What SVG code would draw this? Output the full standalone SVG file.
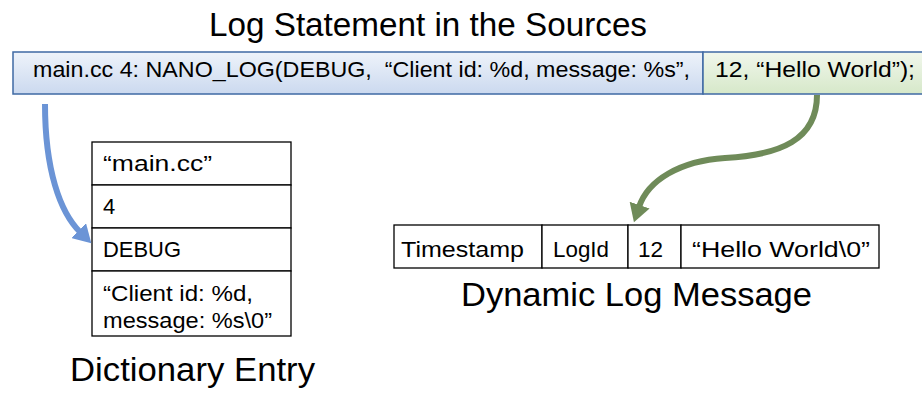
<svg xmlns="http://www.w3.org/2000/svg" width="922" height="393" viewBox="0 0 922 393">
  <style>
    .title { font-family: "Liberation Sans", Arial, sans-serif; font-size: 33px; fill: #000; }
    .cell { font-family: "Liberation Sans", Arial, sans-serif; font-size: 22px; fill: #000; white-space: pre; }
    .grid { fill: #fff; stroke: #000; stroke-width: 1.3; }
    .bar { stroke: #3f6aa4; stroke-width: 1.5; }
    .flow { fill: none; stroke-width: 6; stroke-linecap: butt; }
  </style>
  <defs>
    <linearGradient id="barBlue" x1="0" y1="0" x2="0" y2="1">
      <stop offset="0" stop-color="#eef3fa"/>
      <stop offset="1" stop-color="#cbd9ef"/>
    </linearGradient>
    <linearGradient id="barGreen" x1="0" y1="0" x2="0" y2="1">
      <stop offset="0" stop-color="#f1f7ec"/>
      <stop offset="1" stop-color="#d6e8c9"/>
    </linearGradient>
    <marker id="headBlue" markerUnits="userSpaceOnUse" markerWidth="19" markerHeight="21" refX="2" refY="10.5" orient="auto">
      <path d="M0,0 L18,10.5 L0,21 z" fill="#6b94d6"/>
    </marker>
    <marker id="headGreen" markerUnits="userSpaceOnUse" markerWidth="19" markerHeight="21" refX="2" refY="10.5" orient="auto">
      <path d="M0,0 L18,10.5 L0,21 z" fill="#6f8b59"/>
    </marker>
  </defs>

  <!-- headings -->
  <text class="title" x="209" y="36" textLength="438" lengthAdjust="spacingAndGlyphs">Log Statement in the Sources</text>
  <text class="title" x="70" y="381" textLength="245" lengthAdjust="spacingAndGlyphs">Dictionary Entry</text>
  <text class="title" x="461" y="306" textLength="351" lengthAdjust="spacingAndGlyphs">Dynamic Log Message</text>

  <!-- source statement -->
  <g id="source-statement">
    <rect class="bar" x="13" y="52" width="690" height="42" fill="url(#barBlue)"/>
    <rect class="bar" x="703" y="52" width="230" height="42" fill="url(#barGreen)"/>
    <text class="cell" x="33" y="77" textLength="657" lengthAdjust="spacingAndGlyphs">main.cc 4: NANO_LOG(DEBUG,&#160; “Client id: %d, message: %s”,</text>
    <text class="cell" x="715" y="77" textLength="200" lengthAdjust="spacingAndGlyphs">12, “Hello World”);</text>
  </g>

  <!-- dictionary entry -->
  <g id="dictionary-entry">
    <rect class="grid" x="92" y="142" width="199" height="43"/>
    <rect class="grid" x="92" y="185" width="199" height="43"/>
    <rect class="grid" x="92" y="228" width="199" height="43"/>
    <rect class="grid" x="92" y="271" width="199" height="65"/>
    <text class="cell" x="103" y="171" textLength="109" lengthAdjust="spacingAndGlyphs">“main.cc”</text>
    <text class="cell" x="103" y="214">4</text>
    <text class="cell" x="103" y="257" textLength="78" lengthAdjust="spacingAndGlyphs">DEBUG</text>
    <text class="cell" x="103" y="301" textLength="150" lengthAdjust="spacingAndGlyphs">“Client id: %d,</text>
    <text class="cell" x="103" y="328" textLength="169" lengthAdjust="spacingAndGlyphs">message: %s\0”</text>
  </g>

  <!-- dynamic log message -->
  <g id="log-message">
    <rect class="grid" x="394" y="225" width="148" height="43"/>
    <rect class="grid" x="542" y="225" width="86" height="43"/>
    <rect class="grid" x="628" y="225" width="53" height="43"/>
    <rect class="grid" x="681" y="225" width="198" height="43"/>
    <text class="cell" x="401" y="257" textLength="123" lengthAdjust="spacingAndGlyphs">Timestamp</text>
    <text class="cell" x="553" y="257" textLength="56" lengthAdjust="spacingAndGlyphs">LogId</text>
    <text class="cell" x="638" y="257" textLength="25" lengthAdjust="spacingAndGlyphs">12</text>
    <text class="cell" x="692" y="257" textLength="178" lengthAdjust="spacingAndGlyphs">“Hello World\0”</text>
  </g>

  <!-- connectors -->
  <g id="connectors">
    <path class="flow" stroke="#6b94d6" marker-end="url(#headBlue)" d="M45,104 C45,170 60,212 80,232"/>
    <path class="flow" stroke="#6f8b59" marker-end="url(#headGreen)" d="M817,95 C817,140 780,155 725,158 C680,161 648,180 639,207"/>
  </g>
</svg>
